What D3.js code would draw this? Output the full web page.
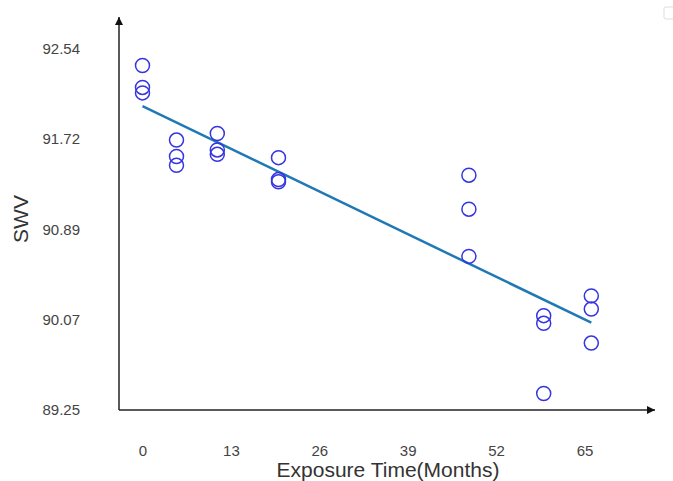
<!DOCTYPE html>
<html>
  <head>
    <meta charset="utf-8">
    <script src="https://d3js.org/d3.v7.min.js"></script>
    <style>
      body {
        margin: 0px;
        background: #fff;
      }
      .tick text {
        fill: #444;
        font-size: 15px;
        font-family: "Liberation Sans", Arial, sans-serif;
      }
      .axis-label {
        fill: #333;
        font-size: 21px;
        font-family: "Liberation Sans", Arial, sans-serif;
      }
    </style>
  </head>
  <body>
    <svg width="673" height="481"></svg>
    <script>
      // months of exposure, three readings each
      const months = [0, 0, 0, 5, 5, 5, 11, 11, 11, 20, 20, 20, 48, 48, 48, 59, 59, 59, 66, 66, 66];
      const swv = [92.39, 92.19, 92.14, 91.71, 91.56, 91.48, 91.77, 91.62, 91.58,
                   91.55, 91.35, 91.33, 91.39, 91.08, 90.65, 90.11, 90.04, 89.40,
                   90.29, 90.17, 89.86];
      const xTicks = [0, 13, 26, 39, 52, 65];
      const yTicks = [89.25, 90.07, 90.89, 91.72, 92.54];
      const xLabel = 'Exposure Time(Months)';
      const yLabel = 'SWV';

      const data = months.map((m, i) => ({ x: m, y: swv[i] }));

      const svg = d3.select('svg');
      const originX = 119, originY = 410;

      const xScale = d3.scaleLinear().domain([0, 65]).range([142.5, 584.5]);
      const yScale = d3.scaleLinear().domain([89.25, 92.54]).range([originY, 49]);

      // arrow markers
      const defs = svg.append('defs');
      defs.append('marker')
          .attr('id', 'arrow')
          .attr('viewBox', '0 0 10 10')
          .attr('refX', 10).attr('refY', 5)
          .attr('markerWidth', 10).attr('markerHeight', 8)
          .attr('markerUnits', 'userSpaceOnUse')
          .attr('orient', 'auto')
        .append('path')
          .attr('d', 'M0,0 L10,5 L0,10 z')
          .attr('fill', '#111');

      const xAxisG = svg.append('g').attr('transform', `translate(0,${originY})`);
      const yAxisG = svg.append('g').attr('transform', `translate(${originX},0)`);

      xAxisG.call(d3.axisBottom(xScale).tickValues(xTicks).tickSize(0).tickPadding(35))
        .select('.domain').remove();
      yAxisG.call(d3.axisLeft(yScale).tickValues(yTicks).tickSize(0).tickPadding(39)
          .tickFormat(d3.format('.2f')))
        .select('.domain').remove();
      svg.selectAll('.tick text').attr('font-size', null).attr('font-family', null);

      // axis lines with arrowheads
      svg.append('line')
          .attr('x1', originX).attr('y1', originY)
          .attr('x2', 655).attr('y2', originY)
          .attr('stroke', '#222').attr('stroke-width', 1.5)
          .attr('marker-end', 'url(#arrow)');
      svg.append('line')
          .attr('x1', originX).attr('y1', originY)
          .attr('x2', originX).attr('y2', 17)
          .attr('stroke', '#222').attr('stroke-width', 1.5)
          .attr('marker-end', 'url(#arrow)');

      svg.append('text')
          .attr('class', 'axis-label')
          .attr('x', 388)
          .attr('y', 477)
          .attr('text-anchor', 'middle')
          .text(xLabel);

      svg.append('text')
          .attr('class', 'axis-label')
          .attr('transform', 'translate(28,219) rotate(-90)')
          .attr('text-anchor', 'middle')
          .text(yLabel);

      // least squares fit
      const mx = d3.mean(data, d => d.x);
      const my = d3.mean(data, d => d.y);
      const slope = d3.sum(data, d => (d.x - mx) * (d.y - my)) / d3.sum(data, d => (d.x - mx) ** 2);
      const intercept = my - slope * mx;
      const fitX = d3.extent(data, d => d.x);

      svg.append('path')
          .datum(fitX.map(x => ({ x: x, y: intercept + slope * x })))
          .attr('d', d3.line().x(d => xScale(d.x)).y(d => yScale(d.y)))
          .attr('fill', 'none')
          .attr('stroke', '#2079b4')
          .attr('stroke-width', 2.5);

      svg.selectAll('circle').data(data)
        .enter().append('circle')
          .attr('cx', d => xScale(d.x))
          .attr('cy', d => yScale(d.y))
          .attr('r', 7)
          .attr('fill', 'none')
          .attr('stroke', '#3535e0')
          .attr('stroke-width', 1.5);

      // small toolbox box in the corner
      svg.append('rect')
          .attr('x', 664).attr('y', 7)
          .attr('width', 12).attr('height', 12)
          .attr('rx', 2)
          .attr('fill', 'none')
          .attr('stroke', '#ddd');
    </script>
  </body>
</html>
